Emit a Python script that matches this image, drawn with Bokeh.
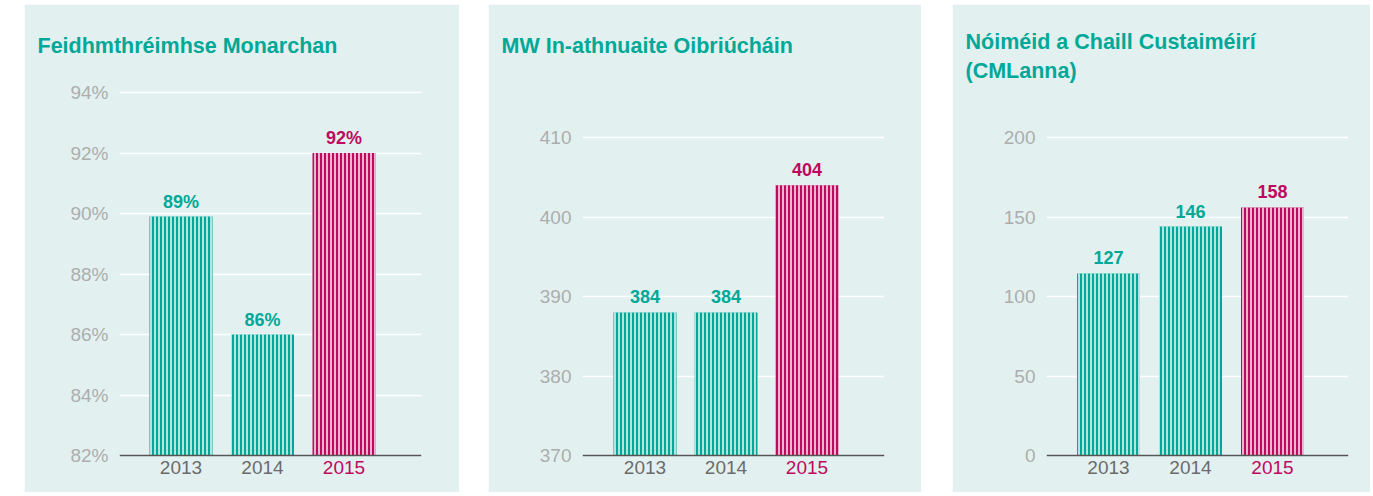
from bokeh.plotting import figure
from bokeh.models import ColumnDataSource, LabelSet, FixedTicker, Range1d, Spacer, Span
from bokeh.layouts import row, column
from bokeh.core.properties import value
from bokeh.embed import file_html
from bokeh.resources import INLINE

# ---------------- data ----------------
years = ["2013", "2014", "2015"]
titles1 = ["Feidhmthréimhse Monarchan"]
titles2 = ["MW In-athnuaite Oibriúcháin"]
titles3 = ["Nóiméid a Chaill Custaiméirí", "(CMLanna)"]

bars1 = [89.9, 86.0, 92.0]
labels1 = ["89%", "86%", "92%"]
ticks1 = [82, 84, 86, 88, 90, 92, 94]

bars2 = [388, 388, 404]
labels2 = ["384", "384", "404"]
ticks2 = [370, 380, 390, 400, 410]

bars3 = [114.5, 144, 156]
labels3 = ["127", "146", "158"]
ticks3 = [0, 50, 100, 150, 200]

# ---------------- style ----------------
TEAL = "#00A898"
MAGENTA = "#BE0A5E"
BG = "#E2F1F0"
GRAYTXT = "#6B6B6B"
LIGHTTXT = "#ADADAD"
FONT = "Liberation Sans"
bar_colors = [TEAL, TEAL, MAGENTA]
year_colors = [GRAYTXT, GRAYTXT, MAGENTA]

FIG_TOP, FIG_BOTTOM = 6, 494      # page pixels of panel top / bottom
FRAME_TOP = 82                     # page pixel of the plotting frame top
AXIS_Y = 457                       # page pixel of the baseline axis


def panel(title_lines, bars, labels, ticks, fmt, panel_left, panel_right,
          frame_left, frame_right, x0, xstep, top_tick_y, title_standoff):
    ppu = (AXIS_Y - top_tick_y) / (ticks[-1] - ticks[0])
    y_start = ticks[0] - (FIG_BOTTOM - AXIS_Y) / ppu
    y_end = ticks[0] + (AXIS_Y - FRAME_TOP) / ppu
    x_start = -(x0 - frame_left) / xstep
    x_end = (frame_right - x0) / xstep

    p = figure(width=panel_right - panel_left, height=FIG_BOTTOM - FIG_TOP,
               output_backend="svg", toolbar_location=None,
               x_range=Range1d(x_start, x_end), y_range=Range1d(y_start, y_end),
               min_border_left=frame_left - panel_left,
               min_border_right=panel_right - frame_right,
               min_border_top=FRAME_TOP - FIG_TOP, min_border_bottom=0)
    p.background_fill_color = BG
    p.border_fill_color = BG
    p.outline_line_color = BG
    p.outline_line_width = 2

    # title
    p.title.text = "\n".join(title_lines)
    p.title.text_font = FONT
    p.title.text_font_size = "21.5px"
    p.title.text_font_style = "bold"
    p.title.text_color = TEAL
    p.title.text_line_height = 1.21
    p.title.align = "left"
    p.title.offset = panel_left + 13 - frame_left
    p.title.standoff = title_standoff

    src = ColumnDataSource(dict(x=[0, 1, 2], top=bars, lab=labels, col=bar_colors,
                                yr=years, ycol=year_colors, base=[ticks[0]] * 3))
    p.vbar(x="x", top="top", bottom=ticks[0], width=63 / xstep, source=src,
           fill_color="col", line_color=None,
           hatch_pattern="vertical_line", hatch_color="white",
           hatch_scale=4.0, hatch_weight=1.4)

    p.add_layout(Span(location=ticks[0], dimension="width",
                      line_color="#555555", line_width=1.5))

    p.add_layout(LabelSet(x="x", y="top", text="lab", source=src, text_color="col",
                          text_font=value(FONT), text_font_size="18px",
                          text_font_style="bold", text_align="center",
                          text_baseline="alphabetic", y_offset=9))
    p.add_layout(LabelSet(x="x", y="base", text="yr", source=src, text_color="ycol",
                          text_font=value(FONT), text_font_size="19px",
                          text_align="center", text_baseline="alphabetic",
                          y_offset=-18))

    p.yaxis.ticker = FixedTicker(ticks=ticks)
    p.yaxis.major_label_overrides = {t: fmt(t) for t in ticks}
    p.yaxis.axis_line_color = None
    p.yaxis.major_tick_line_color = None
    p.yaxis.minor_tick_line_color = None
    p.yaxis.major_tick_out = 0
    p.yaxis.major_tick_in = 0
    p.yaxis.major_label_standoff = 11
    p.yaxis.major_label_text_font = FONT
    p.yaxis.major_label_text_font_size = "19px"
    p.yaxis.major_label_text_color = LIGHTTXT
    p.xaxis.visible = False

    p.xgrid.grid_line_color = None
    p.ygrid.ticker = FixedTicker(ticks=ticks)
    p.ygrid.grid_line_color = "white"
    p.ygrid.grid_line_width = 1.4
    return p


p1 = panel(titles1, bars1, labels1, ticks1, lambda t: f"{t}%",
           25, 460, 120, 422, 181.5, 81.5, 94, 46)
p2 = panel(titles2, bars2, labels2, ticks2, lambda t: f"{t}",
           489, 922, 583, 885, 645.5, 81.0, 139, 46)
p3 = panel(titles3, bars3, labels3, ticks3, lambda t: f"{t}",
           953, 1371, 1047, 1349, 1109, 82.0, 139, -6)

layout = column(Spacer(height=4),
                row(Spacer(width=24), p1, Spacer(width=29), p2, Spacer(width=31), p3))
open("out.html", "w").write(file_html(layout, INLINE))
